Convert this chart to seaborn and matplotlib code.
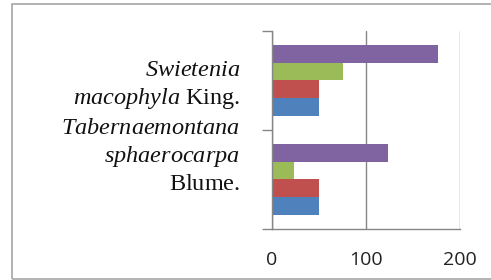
import matplotlib
matplotlib.use("Agg")
import matplotlib.pyplot as plt
import matplotlib.transforms as mtransforms
from matplotlib.patches import Rectangle
import numpy as np
import pandas as pd
import seaborn as sns

# data
species = ["Swietenia macophyla King.", "Tabernaemontana sphaerocarpa Blume."]
series_names = ["Series 1", "Series 2", "Series 3", "Series 4"]
series1 = [50, 50]    # blue
series2 = [50, 50]    # red
series3 = [76, 23]    # green
series4 = [177, 123]  # purple
xticks = [0, 100, 200]

label_texts = [
    r"$\mathit{Swietenia}$" + "\n" + r"$\mathit{macophyla}\ \mathrm{King.}$",
    r"$\mathit{Tabernaemontana}$" + "\n" + r"$\mathit{sphaerocarpa}$" + "\n" + r"$\mathrm{Blume.}$",
]

colors = {"Series 1": "#4F81BD", "Series 2": "#C0504D",
          "Series 3": "#9BBB59", "Series 4": "#8064A2"}

rows = []
for vals, name in zip([series1, series2, series3, series4], series_names):
    for sp, v in zip(species, vals):
        rows.append({"species": sp, "series": name, "value": v})
df = pd.DataFrame(rows)

sns.set_style("white")
plt.rcParams['mathtext.fontset'] = 'custom'
plt.rcParams['mathtext.it'] = 'Liberation Serif:italic'
plt.rcParams['mathtext.rm'] = 'Liberation Serif'

fig = plt.figure(figsize=(4.91, 2.80), dpi=100)
ax = fig.add_axes([272/491, 1-229/280, 188/491, 198/280])

sns.barplot(data=df, y="species", x="value", hue="series",
            hue_order=series_names[::-1], palette=colors, orient="h",
            width=0.72, gap=0, saturation=1, ax=ax, legend=False,
            edgecolor="none", linewidth=0)

ax.set_xlim(0, 200)
ax.set_ylim(1.5, -0.5)
ax.set_xticks(xticks)
ax.set_xticklabels([str(t) for t in xticks], fontfamily="Open Sans", fontsize=14, color="#222222")
ax.tick_params(axis="x", length=7, width=1, color="#868686", pad=9, direction="out")
ax.xaxis.grid(True, color="#868686", linewidth=1)
ax.set_axisbelow(True)

ax.set_yticks([])
ax.set_yticks([-0.5, 0.5, 1.5], minor=True)
ax.tick_params(axis="y", which="minor", length=7, width=1, color="#868686", left=True, direction="out")
ax.set_xlabel("")
ax.set_ylabel("")

for side in ["top", "right"]:
    ax.spines[side].set_visible(False)
for side in ["left", "bottom"]:
    ax.spines[side].set_color("#868686")
    ax.spines[side].set_linewidth(1)

offsets = [-0.05, 0.23]
for i, (txt, dy) in enumerate(zip(label_texts, offsets)):
    tr = ax.get_yaxis_transform() + mtransforms.ScaledTranslation(-0.32, dy, fig.dpi_scale_trans)
    ax.text(0, i, txt, transform=tr, ha="right", va="center", multialignment="right",
            fontfamily="Liberation Serif", fontsize=17.5, color="#111111", linespacing=1.32)

fig.patches.append(Rectangle((12/491, 1/280), 1.0, 275/280, transform=fig.transFigure,
                             fill=False, edgecolor="#A6A6A6", linewidth=1.2))

fig.savefig("out.png", dpi=100)
